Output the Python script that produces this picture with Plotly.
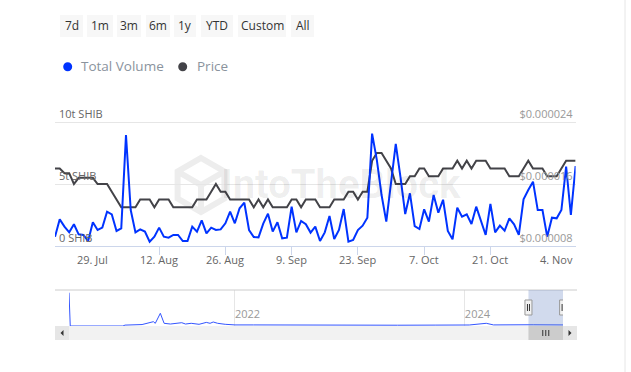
import math
import plotly.graph_objects as go
import pandas as pd

# ---------------- data ----------------
start_date = "2024-07-21"
# Total volume, trillions of SHIB (daily)
volume_t = [
    0.75, 2.15, 1.56, 1.10, 1.75, 0.94, 0.89, 0.40, 1.91, 1.29,
    1.48, 2.77, 2.55, 1.21, 1.42, 8.95, 2.90, 1.10, 1.34, 1.16,
    0.35, 0.75, 1.48, 0.75, 0.67, 0.89, 0.89, 0.40, 0.40, 1.56,
    1.16, 2.07, 1.02, 1.48, 1.29, 1.34, 1.83, 2.77, 1.83, 3.04,
    3.49, 1.29, 0.73, 0.70, 1.80, 2.61, 1.16, 1.91, 0.62, 0.67,
    3.17, 1.10, 2.02, 1.75, 1.08, 1.56, 0.40, 1.10, 2.42, 0.56,
    1.29, 2.98, 0.35, 0.48, 1.29, 1.64, 2.28, 9.06, 6.94, 4.11,
    1.96, 5.32, 8.23, 5.56, 2.58, 4.25, 1.61, 1.37, 2.96, 1.96,
    4.11, 2.69, 3.73, 1.21, 0.54, 3.09, 2.36, 2.56, 1.77, 3.17,
    2.04, 0.89, 3.39, 1.10, 1.64, 1.23, 2.23, 1.75, 0.89, 3.77,
    4.52, 5.19, 2.90, 2.90, 0.75, 2.28, 2.23, 2.90, 6.40, 2.50,
    6.45,
]
# Price in micro-dollars (1e-6 USD)
price_micro = [
    18, 18, 17.4, 17.4, 16, 16.8, 16.8, 16.8, 16.8, 16,
    16, 16, 15, 14, 13, 13, 13, 13, 14, 14,
    14, 13, 14, 14, 14, 13, 13, 13, 13, 13,
    14, 14, 14, 15, 16, 15, 15, 14, 14, 14,
    14, 14, 13, 14, 13, 14, 13, 13, 13, 13,
    14, 14, 13, 14, 14, 14, 13, 13, 13, 14,
    14, 14, 15, 15, 14, 15, 15, 19, 20, 20,
    19, 18, 16, 16, 16, 17, 17, 18, 18, 17,
    17, 17, 18, 18, 18, 19, 18, 19, 18, 19,
    19, 19, 18, 18, 18, 18, 17, 17, 17, 18,
    19, 18, 18, 18, 17, 17, 17, 18, 19, 19,
    19,
]
x_tick_dates = ["2024-07-29", "2024-08-12", "2024-08-26", "2024-09-09",
                "2024-09-23", "2024-10-07", "2024-10-21", "2024-11-04"]
x_tick_labels = ["29. Jul", "12. Aug", "26. Aug", "9. Sep",
                 "23. Sep", "7. Oct", "21. Oct", "4. Nov"]
vol_ticks = [0, 5, 10]
vol_tick_labels = ["0 SHIB", "5t SHIB", "10t SHIB"]
price_ticks = [0.000008, 0.000016, 0.000024]
price_tick_labels = ["$0.000008", "$0.000016", "$0.000024"]

# navigator (full history, relative volume)
nav_dates = ["2020-07-23", "2020-07-27", "2021-01-10", "2021-01-17", "2021-03-12",
             "2021-04-05", "2021-04-17", "2021-04-23", "2021-05-09", "2021-05-21",
             "2021-06-10", "2021-07-16", "2021-07-28", "2021-08-15", "2021-09-09",
             "2021-10-02", "2021-10-14", "2021-10-24", "2021-11-07", "2021-12-01",
             "2022-01-01", "2022-03-01", "2022-06-15", "2022-10-01", "2023-02-01",
             "2023-06-01", "2023-10-01", "2024-01-15", "2024-03-09", "2024-04-01",
             "2024-08-05", "2024-09-26", "2024-11-08"]
nav_volume = [925, 0, 0, 25, 40,
              100, 120, 75, 353, 75,
              55, 92, 55, 75, 47,
              100, 75, 111, 75, 47,
              30, 30, 25, 28, 30,
              22, 25, 28, 75, 30,
              35, 35, 30]
nav_range = ["2020-07-23", "2024-11-08"]
nav_tick_dates = ["2022-01-01", "2024-01-01"]
nav_tick_labels = ["2022", "2024"]

buttons = ["7d", "1m", "3m", "6m", "1y", "YTD", "Custom", "All"]
button_x = [(60, 83), (87, 113), (117, 141), (146, 170), (174, 196),
            (201, 233), (238, 286), (291, 314)]

# ---------------- helpers ----------------
W, H = 631, 372


def fx(x):
    return x / W


def fy(y):
    return 1 - y / H


dates = pd.date_range(start_date, periods=len(volume_t), freq="D")
price_usd = [p * 1e-6 for p in price_micro]

BLUE = "#0033ff"
GREY = "#434348"
FONT = "Open Sans"

# main plot pixel geometry
X_LEFT, X_RIGHT = 55, 575.6
Y_BOT, Y_GRID_TOP, Y_AREA_TOP = 246, 122, 100
ext = (Y_GRID_TOP - Y_AREA_TOP) / (Y_BOT - Y_GRID_TOP)
vol_range = [vol_ticks[0], vol_ticks[-1] + ext * (vol_ticks[-1] - vol_ticks[0])]
price_range = [price_ticks[0], price_ticks[-1] + ext * (price_ticks[-1] - price_ticks[0])]

fig = go.Figure()
fig.add_trace(go.Scatter(x=dates, y=price_usd, mode="lines", name="Price",
                         line=dict(color=GREY, width=2), xaxis="x", yaxis="y",
                         hoverinfo="skip"))
fig.add_trace(go.Scatter(x=dates, y=volume_t, mode="lines", name="Total Volume",
                         line=dict(color=BLUE, width=2), xaxis="x", yaxis="y2",
                         hoverinfo="skip"))
fig.add_trace(go.Scatter(x=pd.to_datetime(nav_dates), y=nav_volume, mode="lines",
                         line=dict(color="#3355ff", width=1), xaxis="x2", yaxis="y3",
                         hoverinfo="skip"))

shapes = []
annotations = []

# x-axis date labels (drawn as text on the x axis scale)
for d, lab in zip(x_tick_dates, x_tick_labels):
    annotations.append(dict(xref="x", yref="paper", x=d, y=fy(259), text=lab,
                            showarrow=False, xanchor="center", yanchor="middle",
                            font=dict(family=FONT, size=11, color="#666666")))

# range selector buttons
for label, (x0, x1) in zip(buttons, button_x):
    shapes.append(dict(type="rect", xref="paper", yref="paper",
                       x0=fx(x0), x1=fx(x1), y0=fy(37), y1=fy(15),
                       fillcolor="#f7f7f7", line=dict(width=0)))
    annotations.append(dict(xref="paper", yref="paper", x=fx((x0 + x1) / 2), y=fy(26),
                            text=label, showarrow=False, xanchor="center", yanchor="middle",
                            font=dict(family=FONT, size=12, color="#333333")))

# legend
for cx, color, label, tx in [(67.7, BLUE, "Total Volume", 79), (182.7, GREY, "Price", 194.5)]:
    shapes.append(dict(type="circle", xref="paper", yref="paper",
                       x0=fx(cx - 4.5), x1=fx(cx + 4.5), y0=fy(66.7 + 4.5), y1=fy(66.7 - 4.5),
                       fillcolor=color, line=dict(width=0)))
    annotations.append(dict(xref="paper", yref="paper", x=fx(tx), y=fy(66),
                            text=label, showarrow=False, xanchor="left", yanchor="middle",
                            font=dict(family=FONT, size=13.5, color="#8a939d")))

# watermark
hexc = (201, 185)
r = 27
pts = [(hexc[0] + r * math.cos(math.radians(a)), hexc[1] + r * math.sin(math.radians(a)))
       for a in (-90, -30, 30, 90, 150, 210)]
path = "M " + " L ".join(f"{fx(px)},{fy(py)}" for px, py in pts) + " Z"
path += f" M {fx(pts[5][0])},{fy(pts[5][1])} L {fx(hexc[0])},{fy(hexc[1])}"
path += f" L {fx(pts[1][0])},{fy(pts[1][1])}"
path += f" M {fx(hexc[0])},{fy(hexc[1])} L {fx(hexc[0])},{fy(pts[3][1])}"
shapes.append(dict(type="path", xref="paper", yref="paper", path=path, layer="below",
                   line=dict(color="#ededed", width=6)))
annotations.append(dict(xref="paper", yref="paper", x=fx(341), y=fy(184),
                        text="<b>IntoTheBlock</b>", showarrow=False,
                        xanchor="center", yanchor="middle",
                        font=dict(family="Roboto", size=40, color="rgba(0,0,0,0.07)")))

# navigator frame / mask / handles
shapes.append(dict(type="line", xref="paper", yref="paper", x0=fx(55), x1=fx(577),
                   y0=fy(290), y1=fy(290), line=dict(color="#cccccc", width=1)))
shapes.append(dict(type="rect", xref="x2", yref="paper", x0=dates[0], x1=dates[-1],
                   y0=fy(326), y1=fy(290), fillcolor="rgba(102,133,194,0.3)",
                   line=dict(width=0)))
for d in (dates[0], dates[-1]):
    shapes.append(dict(type="rect", xref="x2", yref="paper", xsizemode="pixel", xanchor=d,
                       x0=-3.5, x1=3.5, y0=fy(315), y1=fy(300),
                       fillcolor="#f2f2f2", line=dict(color="#999999", width=1)))
    for off in (-1, 1):
        shapes.append(dict(type="line", xref="x2", yref="paper", xsizemode="pixel", xanchor=d,
                           x0=off, x1=off, y0=fy(311), y1=fy(304),
                           line=dict(color="#333333", width=1)))

# scrollbar
shapes.append(dict(type="rect", xref="paper", yref="paper", x0=fx(55), x1=fx(577),
                   y0=fy(340), y1=fy(326), fillcolor="#f2f2f2", line=dict(width=0)))
for x0, x1 in ((55, 69), (563, 577)):
    shapes.append(dict(type="rect", xref="paper", yref="paper", x0=fx(x0), x1=fx(x1),
                       y0=fy(340), y1=fy(326), fillcolor="#e6e6e6", line=dict(width=0)))
shapes.append(dict(type="path", xref="paper", yref="paper",
                   path=f"M {fx(60.5)},{fy(333)} L {fx(63.5)},{fy(330)} L {fx(63.5)},{fy(336)} Z",
                   fillcolor="#333333", line=dict(width=0)))
shapes.append(dict(type="path", xref="paper", yref="paper",
                   path=f"M {fx(571.5)},{fy(333)} L {fx(568.5)},{fy(330)} L {fx(568.5)},{fy(336)} Z",
                   fillcolor="#333333", line=dict(width=0)))
shapes.append(dict(type="rect", xref="x2", yref="paper", x0=dates[0], x1=dates[-1],
                   y0=fy(340), y1=fy(326), fillcolor="#cccccc", line=dict(width=0)))
mid = dates[len(dates) // 2]
for off in (-3, 0, 3):
    shapes.append(dict(type="line", xref="x2", yref="paper", xsizemode="pixel", xanchor=mid,
                       x0=off, x1=off, y0=fy(336), y1=fy(330),
                       line=dict(color="#333333", width=1)))

# container border on the right
shapes.append(dict(type="line", xref="paper", yref="paper", x0=fx(625), x1=fx(625),
                   y0=0, y1=1, line=dict(color="#e6e6e6", width=1)))

fig.update_layout(
    width=W, height=H, autosize=False,
    margin=dict(l=0, r=0, t=0, b=0),
    paper_bgcolor="white", plot_bgcolor="white",
    showlegend=False,
    font=dict(family=FONT, size=11, color="#666666"),
    xaxis=dict(domain=[fx(X_LEFT), fx(X_RIGHT)], range=[dates[0], dates[-1]], type="date",
               tickvals=x_tick_dates, showticklabels=False, showgrid=False,
               showline=True, linecolor="#ccd6eb", linewidth=1, ticks="outside", ticklen=8,
               tickcolor="#ccd6eb", zeroline=False, anchor="free", position=fy(Y_BOT),
               fixedrange=True),
    yaxis=dict(domain=[fy(Y_BOT), fy(Y_AREA_TOP)], range=price_range,
               side="right", tickvals=price_ticks, ticktext=price_tick_labels,
               ticklabelposition="inside top", showgrid=True, gridcolor="#e6e6e6",
               zeroline=False, showline=False, ticks="", anchor="free",
               position=fx(X_RIGHT), fixedrange=True,
               tickfont=dict(size=11, color="#999999")),
    yaxis2=dict(overlaying="y", side="left", range=vol_range,
                tickvals=vol_ticks, ticktext=vol_tick_labels,
                ticklabelposition="inside top", showgrid=False, zeroline=False,
                showline=False, ticks="", anchor="free", position=fx(X_LEFT),
                fixedrange=True, tickfont=dict(size=11, color="#666666")),
    xaxis2=dict(domain=[fx(69), fx(563.1)], range=nav_range, type="date", anchor="y3",
                tickvals=nav_tick_dates, ticktext=nav_tick_labels,
                ticklabelposition="inside right", showgrid=True, gridcolor="#e6e6e6",
                ticks="", showline=False, zeroline=False, fixedrange=True,
                tickfont=dict(size=11, color="#999999")),
    yaxis3=dict(domain=[fy(326), fy(290)], range=[0, 1000], visible=False,
                anchor="x2", fixedrange=True),
    shapes=shapes,
    annotations=annotations,
)

fig.write_html("out.html", config={"displayModeBar": False},
               post_script="document.body.style.margin='0';")
